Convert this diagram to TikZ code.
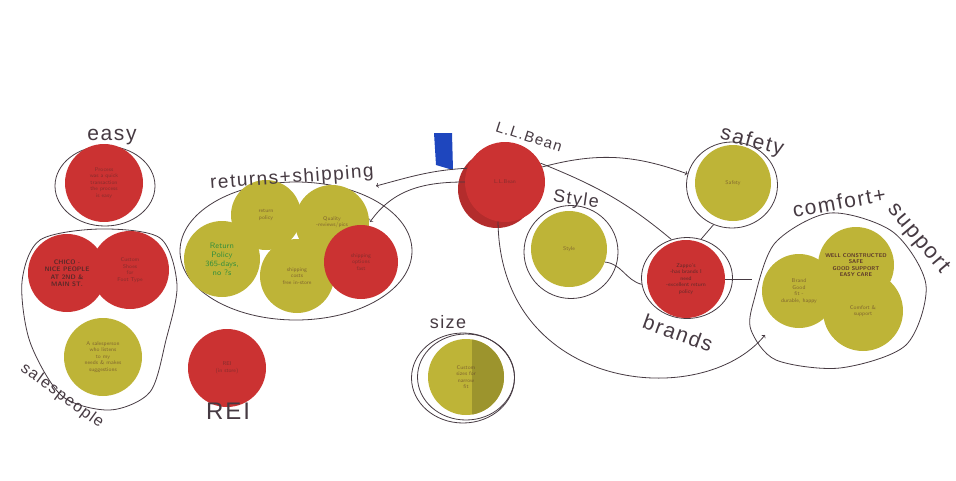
\documentclass[tikz,border=0pt]{standalone}
\usepackage{fontspec}
\newfontfamily\handfont{Liberation Sans}[LetterSpace=8]
\usetikzlibrary{shapes.geometric}
\definecolor{dotred}{RGB}{203,50,50}
\definecolor{dotyellow}{RGB}{190,180,55}
\definecolor{pen}{RGB}{70,58,66}
\definecolor{ink}{RGB}{80,40,40}
\definecolor{greenink}{RGB}{40,140,60}
\definecolor{bluetag}{RGB}{30,70,190}

\begin{document}
\begin{tikzpicture}[x=1pt,y=-1pt]
    \useasboundingbox (0,0) rectangle (956,480);

    \tikzset{
        reddot/.style={circle,fill=dotred,minimum size=78,inner sep=0},
        yellowdot/.style={circle,fill=dotyellow,minimum size=78,inner sep=0},
        lbl/.style={text=pen,inner sep=1,font=\handfont\fontsize{#1}{#1}\selectfont},
        lbl/.default=20,
        scrawl/.style={text=ink,opacity=0.55,align=center,font=\sffamily\fontsize{5.5}{6.5}\selectfont}
    }

    \begin{scope}[every node/.style={ellipse,draw=pen,line width=0.8pt,inner sep=0}]
        \node[minimum width=100,minimum height=80] (easyline) at (105,186) {};
        \node[minimum width=232,minimum height=138] (rsline) at (296,251) {};
        \node[minimum width=94,minimum height=93] (styleline) at (571,252) {};
        \node[minimum width=91,minimum height=81] (brandsline) at (687,278) {};
        \node[minimum width=91,minimum height=86] (safeline) at (732,185) {};
        \node[minimum width=103,minimum height=90] (sizeline) at (463,378) {};
        \node[minimum width=97,minimum height=86] (sizeline2) at (466,377) {}; % second pen stroke %
    \end{scope}

    % hand drawn groups %
    \draw[pen,line width=0.8pt] plot[smooth cycle] coordinates {(40,240) (100,229) (160,238) (177,285) (166,340) (150,392) (110,410) (62,396) (30,342) (22,282)};
    \draw[pen,line width=0.8pt] plot[smooth cycle] coordinates {(754,300) (775,243) (830,213) (893,232) (926,285) (906,345) (840,368) (776,360) (751,330)};
    \coordinate (csleft) at (752,279);
    \coordinate (csfoot) at (765,335);
    \coordinate (shipend) at (376,186);
    \coordinate (rsarrow) at (370,222);

    % blue tag %
    \fill[bluetag] (434,133) -- (452,133) -- (453,170) -- (436,165) -- cycle;

    % dots %
    \node[reddot] (easydot) at (104,183) {};
    \node[reddot] (chico) at (67,273) {};
    \node[reddot] (custom) at (130,270) {};
    \node[yellowdot] (salesdot) at (103,357) {};
    \node[reddot] (rei) at (227,368) {};

    \node[yellowdot,minimum size=70] (retpol) at (266,215) {};
    \node[yellowdot,minimum size=74] (quality) at (332,222) {};
    \node[yellowdot,minimum size=76] (retgreen) at (222,259) {};
    \node[yellowdot,minimum size=74] (shipdot) at (297,276) {};
    \node[reddot,minimum size=74] (rsred) at (361,262) {};

    \node[reddot,fill=dotred!88!black] (beanback) at (497,189) {};
    \node[reddot,minimum size=80] (bean) at (505,182) {};
    \node[yellowdot,minimum size=76] (styledot) at (569,249) {};
    \node[reddot,minimum size=78] (zappos) at (686,279) {};
    \node[yellowdot,minimum size=76] (safedot) at (733,183) {};

    \node[yellowdot,minimum size=74] (cfdot) at (799,291) {};
    \node[yellowdot,minimum size=76] (welldot) at (856,265) {};
    \node[yellowdot,minimum size=80] (supdot) at (863,311) {};

    \node[yellowdot,minimum size=76] (sizedot) at (466,377) {};
    \begin{scope}
        \clip (466,377) circle (38);
        \fill[dotyellow!82!black] (472,330) rectangle (510,420);
    \end{scope}

    % writing on the dots %
    \node[scrawl] at (easydot) {Process\\was a quick\\transaction\\the process\\is easy};
    \node[scrawl,opacity=0.9,font=\sffamily\bfseries\fontsize{6.5}{7.5}\selectfont] at (chico) {CHICO -\\NICE PEOPLE\\AT 2ND \&\\MAIN ST.};
    \node[scrawl] at (custom) {Custom\\Shoes\\for\\Foot Type};
    \node[scrawl] at (salesdot) {A salesperson\\who listens\\to my\\needs \& makes\\suggestions};
    \node[scrawl] at (rei) {REI\\(in store)};
    \node[scrawl] at (retpol) {return\\policy};
    \node[scrawl] at (quality) {Quality\\-reviews/pics};
    \node[scrawl,text=greenink,opacity=0.9,font=\sffamily\fontsize{8}{9}\selectfont] at (retgreen) {Return\\Policy\\365-days,\\no ?s};
    \node[scrawl] at (shipdot) {shipping\\costs\\free in-store};
    \node[scrawl] at (rsred) {shipping\\options\\fast};
    \node[scrawl] at (bean) {L.L.Bean};
    \node[scrawl] at (styledot) {Style};
    \node[scrawl] at (safedot) {Safety};
    \node[scrawl,opacity=0.85] at (zappos) {Zappo's\\-has brands I\\need\\-excellent return\\policy};
    \node[scrawl] at (cfdot) {Brand\\Good\\fit -\\durable, happy};
    \node[scrawl,opacity=0.9,font=\sffamily\bfseries\fontsize{5.5}{6.5}\selectfont] at (welldot) {WELL CONSTRUCTED\\SAFE\\GOOD SUPPORT\\EASY CARE};
    \node[scrawl] at (supdot) {Comfort \&\\support};
    \node[scrawl] at (sizedot) {Custom\\sizes for\\narrow\\fit};

    % group labels %
    \node[lbl=21] (easylbl) at (112,137) {easy};
    \node[lbl=16,rotate=-36] (saleslbl) at (62,396) {salespeople};
    \node[lbl=24] (reilbl) at (228,411) {REI};
    \node[lbl=19,rotate=4] (rslbl) at (292,178) {returns+shipping};
    \node[lbl=15,rotate=-18] (beanlbl) at (529,137) {L.L.Bean};
    \node[lbl=18,rotate=-8] (stylelbl) at (576,200) {Style};
    \node[lbl=21,rotate=-15] (safelbl) at (752,142) {safety};
    \node[lbl=21,rotate=-20] (brandslbl) at (678,333) {brands};
    \node[lbl=18] (sizelbl) at (448,322) {size};
    \node[lbl=21,rotate=10] (cflbl) at (839,202) {comfort+};
    \node[lbl=22,rotate=-50] (suplbl) at (918,239) {support};

    \begin{scope}[every edge/.style={draw=pen,line width=0.8pt}]
        % L.L.Bean back to returns+shipping %
        \path [->] (bean.160) edge [out=183, in=15] (shipend);
        \path [->] (bean.180) edge [out=180, in=55] (rsarrow);
        % L.L.Bean out to the right %
        \path [->] (bean.22) edge [out=15, in=160] (safeline.166);
        \path (bean.28) edge [out=-22, in=140] (brandsline.112);
        % links between groups %
        \path (styledot.-20) edge [out=-5, in=165] (brandsline.188);
        \path (safeline.-115) edge (brandsline.70);
        \path (zappos.east) edge (csleft);
    \end{scope}
    % long way round to comfort+support %
    \draw[pen,line width=0.8pt,->] (bean.-100) .. controls (500,392) and (702,412) .. (csfoot);

\end{tikzpicture}
\end{document}
